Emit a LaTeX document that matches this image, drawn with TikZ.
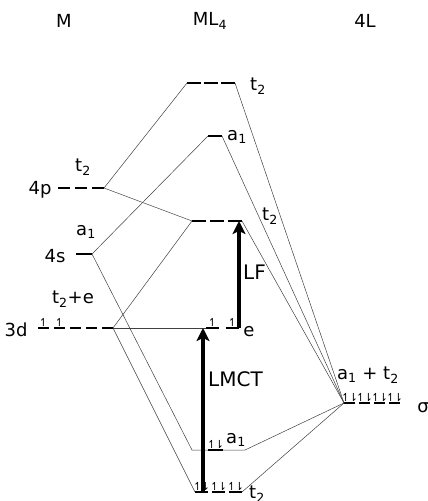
\documentclass[tikz,border=0pt]{standalone}
\usepackage{fontspec}
\setmainfont{DejaVu Sans}
\usetikzlibrary{arrows.meta}

\newcommand{\pairup}{↿\kern-1.5pt⇂}
\newcommand{\oneup}{↿}

\begin{document}
\begin{tikzpicture}[
  x=1pt, y=-1pt,
  head/.style={font=\fontsize{18}{20}\selectfont},
  lab/.style={font=\fontsize{18}{20}\selectfont, inner sep=0pt},
  bigl/.style={font=\fontsize{20}{22}\selectfont, inner sep=0pt},
  elec/.style={font=\fontsize{11}{11}\selectfont, inner sep=0pt, anchor=south},
  lvl/.style={line width=2.6pt},
  mix/.style={line width=0.5pt, black!75},
  trans/.style={line width=3.4pt, -{Stealth[length=13pt, width=13pt, inset=3pt]}},
]
\useasboundingbox (0,0) rectangle (428,501);

% --- headers ---
\node[head] (hM) at (64,21) {M};
\node[head] (hML) at (210,21) {ML\textsubscript{4}};
\node[head] (hL) at (365,21) {4L};

% --- metal levels ---
\coordinate (p4-r) at (104,188);
\coordinate (s4-l) at (76,254);
\coordinate (s4-r) at (92,254);
\coordinate (d3-r) at (113,328);
\foreach \x in {58,75,92} \draw[lvl] (\x,188) -- ++(12,0);
\draw[lvl] (s4-l) -- (s4-r);
\foreach \x in {38,54,70,86,102} \draw[lvl] (\x,328) -- ++(11,0);
\foreach \x [count=\i] in {43.5,59.5} \node[elec] (d3e\i) at (\x,326.5) {\oneup};

\node[lab] (lp4) at (40,190) {4p};
\node[lab] (lp4t) at (83,167) {t\textsubscript{2}};
\node[lab] (ls4) at (55,256) {4s};
\node[lab] (ls4a) at (86,232) {a\textsubscript{1}};
\node[lab] (ld3) at (16,330) {3d};
\node[lab] (ld3t) at (73,299) {t\textsubscript{2}+e};

% --- complex levels ---
\coordinate (tt-l) at (187,83);  \coordinate (tt-r) at (235,83);
\coordinate (at-l) at (208,136); \coordinate (at-r) at (222,136);
\coordinate (tm-l) at (192,221); \coordinate (tm-r) at (242,221);
\coordinate (e-l) at (206,328);
\coordinate (al-in) at (192,450); \coordinate (al-l) at (208,450);
\coordinate (al-r) at (223,450);  \coordinate (al-out) at (245,450);
\coordinate (tl-l) at (195,492); \coordinate (tl-r) at (242,492);
\foreach \x in {187,204,221} \draw[lvl] (\x,83) -- ++(14,0);
\draw[lvl] (at-l) -- (at-r);
\foreach \x in {192,210,228} \draw[lvl] (\x,221) -- ++(14,0);
\foreach \x in {206,226} \draw[lvl] (\x,328) -- ++(13,0);
\foreach \x [count=\i] in {212.5,232.5} \node[elec] (ee\i) at (\x,326.5) {\oneup};
\draw[lvl] (al-l) -- (al-r);
\node[elec] (ale) at (215.5,448.5) {\pairup};
\foreach \x in {195,212,229} \draw[lvl] (\x,492) -- ++(13,0);
\foreach \x [count=\i] in {201.5,218.5,235.5} \node[elec] (tle\i) at (\x,490.5) {\pairup};

\node[lab] (ltt) at (258,86) {t\textsubscript{2}};
\node[lab] (lat) at (237,137) {a\textsubscript{1}};
\node[lab] (ltm) at (270,216) {t\textsubscript{2}};
\node[lab] (le) at (249,332) {e};
\node[lab] (lal) at (236,440) {a\textsubscript{1}};
\node[lab] (ltl) at (257,494) {t\textsubscript{2}};

% --- ligand levels ---
\coordinate (L-l) at (344,403);
\foreach \x in {344,359,374,389} \draw[lvl] (\x,403) -- ++(11,0);
\foreach \x [count=\i] in {349.5,364.5,379.5,394.5} \node[elec] (Le\i) at (\x,401.5) {\pairup};
\node[lab] (lL) at (368,375) {a\textsubscript{1} + t\textsubscript{2}};
\node[lab] (lsig) at (423,408) {σ};

% --- mixing lines ---
\draw[mix] (p4-r) -- (tt-l);
\draw[mix] (p4-r) -- (tm-l);
\draw[mix] (s4-r) -- (at-l);
\draw[mix] (s4-r) -- (al-in) -- (al-l);
\draw[mix] (d3-r) -- (tm-l);
\draw[mix] (d3-r) -- (tl-l);
\draw[mix] (d3-r) -- (e-l);
\draw[mix] (L-l) -- (tt-r);
\draw[mix] (L-l) -- (at-r);
\draw[mix] (L-l) -- (tm-r);
\draw[mix] (al-r) -- (al-out) -- (L-l);
\draw[mix] (L-l) -- (tl-r);

% --- transitions ---
\coordinate (lmct-a) at (203,492); \coordinate (lmct-b) at (203,328);
\coordinate (lf-a) at (239,328);   \coordinate (lf-b) at (239,221);
\draw[trans] (lmct-a) -- (lmct-b);
\draw[trans] (lf-a) -- (lf-b);
\node[bigl, anchor=west] (llmct) at (208,379) {LMCT};
\node[bigl, anchor=west] (llf) at (243,272) {LF};
\end{tikzpicture}
\end{document}
